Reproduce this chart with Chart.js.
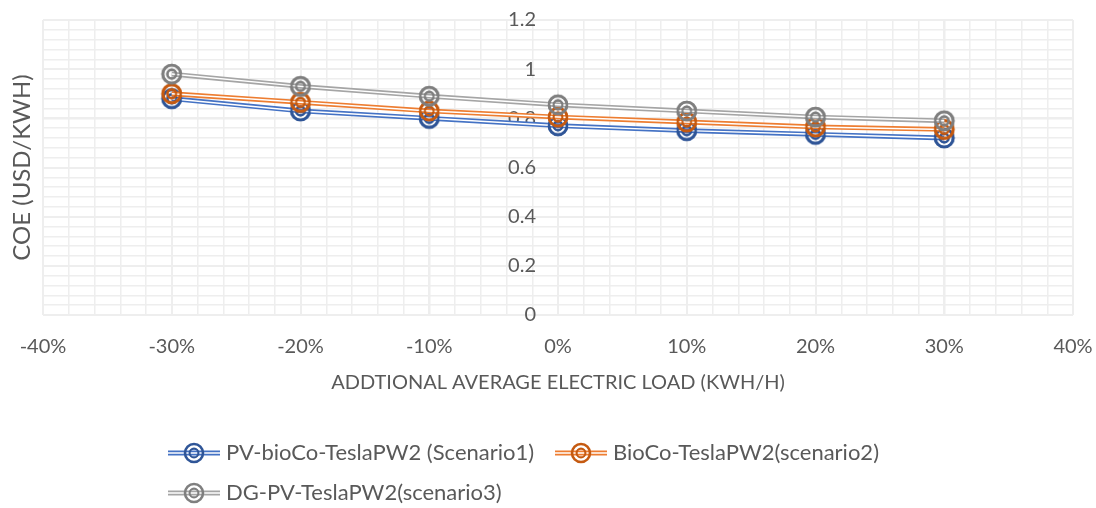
<!DOCTYPE html>
<html><head><meta charset="utf-8">
<script src="https://cdn.jsdelivr.net/npm/chart.js@4.4.1/dist/chart.umd.min.js"></script>
<style>html,body{margin:0;padding:0;background:#fff;}</style>
</head><body>
<canvas id="c" width="1096" height="508"></canvas>
<script>
const loadChange = [-0.30, -0.20, -0.10, 0.00, 0.10, 0.20, 0.30];
const scenario1 = [0.88, 0.83, 0.80, 0.77, 0.75, 0.735, 0.72];
const scenario2 = [0.90, 0.865, 0.83, 0.805, 0.785, 0.765, 0.755];
const scenario3 = [0.98, 0.93, 0.89, 0.855, 0.83, 0.805, 0.79];
const seriesNames = ['PV-bioCo-TeslaPW2 (Scenario1)', 'BioCo-TeslaPW2(scenario2)', 'DG-PV-TeslaPW2(scenario3)'];
const lineColors = ['#4472C4', '#ED7D31', '#A5A5A5'];
const markerColors = ['#2F5597', '#C55A11', '#7F7F7F'];
const xTitle = 'ADDTIONAL AVERAGE ELECTRIC LOAD (KWH/H)';
const yTitle = 'COE (USD/KWH)';

const FONT = 'Lato';
const TEXT = '#595959';
const GRID = '#EEEEEE';

function makeMarker(color) {
  const c = document.createElement('canvas');
  c.width = 24; c.height = 24;
  const g = c.getContext('2d');
  g.strokeStyle = color;
  g.lineWidth = 2.6;
  g.beginPath(); g.arc(12, 12, 9.0, 0, Math.PI * 2); g.stroke();
  g.lineWidth = 2.1;
  g.beginPath(); g.arc(12, 12, 4.4, 0, Math.PI * 2); g.stroke();
  return c;
}
const markers = markerColors.map(makeMarker);

const allSeries = [scenario1, scenario2, scenario3];
const datasets = allSeries.map((vals, i) => ({
  label: seriesNames[i],
  data: loadChange.map((x, k) => ({x: x, y: vals[k]})),
  borderColor: lineColors[i],
  backgroundColor: lineColors[i],
  borderWidth: 4.8,
  pointStyle: markers[i],
  pointRadius: 10,
  pointHoverRadius: 10,
  tension: 0,
  order: 3 - i,
  xAxisID: 'x',
  yAxisID: 'y'
}));

const doubleLinePlugin = {
  id: 'doubleLine',
  afterDatasetDraw(chart, args) {
    const meta = args.meta;
    const ctx = chart.ctx;
    const pts = meta.data;
    ctx.save();
    ctx.strokeStyle = '#FFFFFF';
    ctx.lineWidth = 1.5;
    ctx.beginPath();
    pts.forEach((p, k) => { if (k === 0) ctx.moveTo(p.x, p.y); else ctx.lineTo(p.x, p.y); });
    ctx.stroke();
    ctx.restore();
    pts.forEach(p => p.draw(ctx, chart.chartArea));
  }
};

const legendPlugin = {
  id: 'excelLegend',
  afterDraw(chart) {
    const ctx = chart.ctx;
    const items = [{i: 0, x: 168, y: 453}, {i: 1, x: 555, y: 453}, {i: 2, x: 168, y: 493}];
    items.forEach(it => {
      ctx.save();
      ctx.strokeStyle = lineColors[it.i];
      ctx.lineWidth = 4.8;
      ctx.beginPath(); ctx.moveTo(it.x, it.y); ctx.lineTo(it.x + 52, it.y); ctx.stroke();
      ctx.strokeStyle = '#FFFFFF';
      ctx.lineWidth = 1.5;
      ctx.beginPath(); ctx.moveTo(it.x, it.y); ctx.lineTo(it.x + 52, it.y); ctx.stroke();
      ctx.drawImage(markers[it.i], it.x + 26 - 12, it.y - 12);
      ctx.fillStyle = TEXT;
      ctx.font = '22px ' + FONT;
      ctx.textBaseline = 'middle';
      ctx.textAlign = 'left';
      ctx.fillText(seriesNames[it.i], it.x + 58, it.y);
      ctx.restore();
    });
  }
};

new Chart(document.getElementById('c'), {
  type: 'line',
  data: {datasets: datasets},
  options: {
    responsive: false,
    animation: false,
    layout: {padding: {left: 0, right: 23, top: 20, bottom: 109}},
    plugins: {legend: {display: false}, tooltip: {enabled: false}},
    scales: {
      xMinor: {
        type: 'linear', position: 'top', min: -20, max: 20,
        ticks: {display: false, stepSize: 1},
        grid: {color: GRID, lineWidth: 1.5, drawTicks: false},
        border: {display: false},
        afterFit: s => { s.height = 0; }
      },
      yMinor: {
        type: 'linear', position: 'right', min: 0, max: 30,
        ticks: {display: false, stepSize: 1},
        grid: {color: GRID, lineWidth: 1.5, drawTicks: false},
        border: {display: false},
        afterFit: s => { s.width = 0; }
      },
      yTitleAxis: {
        type: 'linear', position: 'left',
        ticks: {display: false},
        grid: {display: false, drawTicks: false},
        border: {display: false},
        title: {display: true, text: yTitle, color: TEXT, font: {family: FONT, size: 24}, padding: {top: 8, bottom: 0}},
        afterFit: s => { s.width = 43; }
      },
      x: {
        type: 'linear', position: 'bottom', min: -0.4, max: 0.4,
        ticks: {
          stepSize: 0.1, padding: 20, color: TEXT, maxRotation: 0, autoSkip: false,
          font: {family: FONT, size: 20},
          callback: v => Math.round(v * 100) + '%'
        },
        grid: {color: GRID, lineWidth: 2, drawTicks: false},
        border: {display: false},
        title: {display: true, text: xTitle, color: TEXT, font: {family: FONT, size: 20}, padding: {top: 12, bottom: 4}},
        afterFit: s => { s.height = 84; s.paddingLeft = 0; s.paddingRight = 0; }
      },
      y: {
        type: 'linear', position: 'center', min: 0, max: 1.2,
        ticks: {
          stepSize: 0.2, padding: 22, color: TEXT, font: {family: FONT, size: 20},
          callback: v => String(Math.round(v * 10) / 10)
        },
        grid: {color: GRID, lineWidth: 2, drawTicks: false},
        border: {display: false},
        afterFit: s => { s.paddingTop = 0; s.paddingBottom = 0; }
      }
    }
  },
  plugins: [doubleLinePlugin, legendPlugin]
});
</script>
</body></html>
